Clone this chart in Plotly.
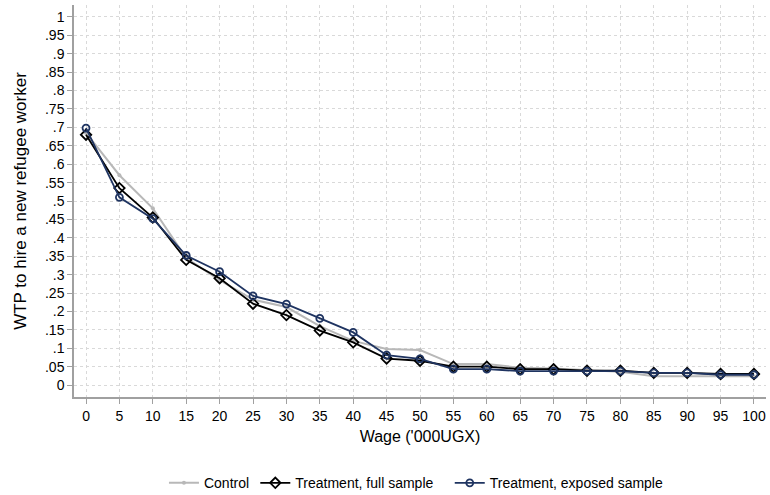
import plotly.graph_objects as go

wage = [0, 5, 10, 15, 20, 25, 30, 35, 40, 45, 50, 55, 60, 65, 70, 75, 80, 85, 90, 95, 100]
control = [0.685, 0.57, 0.48, 0.345, 0.285, 0.232, 0.212, 0.16, 0.12, 0.098, 0.095, 0.057, 0.057, 0.047, 0.045, 0.040, 0.036, 0.024, 0.024, 0.024, 0.024]
full_sample = [0.68, 0.535, 0.455, 0.34, 0.29, 0.221, 0.19, 0.148, 0.116, 0.072, 0.066, 0.050, 0.050, 0.043, 0.043, 0.039, 0.039, 0.033, 0.033, 0.030, 0.030]
exposed_sample = [0.698, 0.51, 0.452, 0.352, 0.308, 0.242, 0.22, 0.181, 0.143, 0.081, 0.071, 0.043, 0.043, 0.038, 0.038, 0.038, 0.038, 0.033, 0.033, 0.028, 0.028]

y_ticks = [i / 20 for i in range(21)]
y_labels = ["0"] + [("%.2f" % v).lstrip("0").rstrip("0") if v < 1 else "1" for v in y_ticks[1:]]

navy = "#1f3461"
fig = go.Figure()
fig.add_trace(go.Scatter(x=wage, y=control, name="Control", mode="lines+markers",
                         line=dict(color="#b8b8b8", width=2),
                         marker=dict(symbol="circle", size=4, color="#b8b8b8"),
                         legend="legend"))
fig.add_trace(go.Scatter(x=wage, y=full_sample, name="Treatment, full sample", mode="lines+markers",
                         line=dict(color="black", width=1.8),
                         marker=dict(symbol="diamond-open", size=8, color="black", line=dict(width=1.8)),
                         legend="legend2"))
fig.add_trace(go.Scatter(x=wage, y=exposed_sample, name="Treatment, exposed sample", mode="lines+markers",
                         line=dict(color=navy, width=1.8),
                         marker=dict(symbol="circle-open", size=7, color=navy, line=dict(width=1.8)),
                         legend="legend3"))

font = "Liberation Sans, Arial, Helvetica, sans-serif"
leg_common = dict(orientation="h", y=-0.22, yanchor="middle", xanchor="left",
                  font=dict(size=14), itemwidth=30, bgcolor="rgba(0,0,0,0)")
fig.update_layout(
    width=770, height=495,
    margin=dict(l=74, r=4, t=5, b=98, autoexpand=False),
    paper_bgcolor="white", plot_bgcolor="white",
    font=dict(family=font, size=14, color="black"),
    showlegend=True,
    legend=dict(x=0.13, **leg_common),
    legend2=dict(x=0.262, **leg_common),
    legend3=dict(x=0.543, **leg_common),
    xaxis=dict(range=[-1.8, 101.8], tickmode="array", tickvals=wage,
               ticktext=[str(w) for w in wage],
               showline=True, linecolor="#a0a0a0", linewidth=1.5,
               ticks="outside", ticklen=5, tickcolor="#a0a0a0",
               showgrid=True, gridcolor="#d9d9d9", griddash="dot", gridwidth=1,
               zeroline=False, tickfont=dict(size=14),
               title=dict(text="Wage ('000UGX)", font=dict(size=16), standoff=8)),
    yaxis=dict(range=[-0.0325, 1.0325], tickmode="array", tickvals=y_ticks, ticktext=y_labels,
               showline=True, linecolor="#a0a0a0", linewidth=1.5,
               ticks="outside", ticklen=5, tickcolor="#a0a0a0",
               showgrid=True, gridcolor="#d9d9d9", griddash="dot", gridwidth=1,
               zeroline=False, tickfont=dict(size=14),
               title=dict(text="WTP to hire a new refugee worker", font=dict(size=17), standoff=14)),
)
fig.write_html("out.html")
